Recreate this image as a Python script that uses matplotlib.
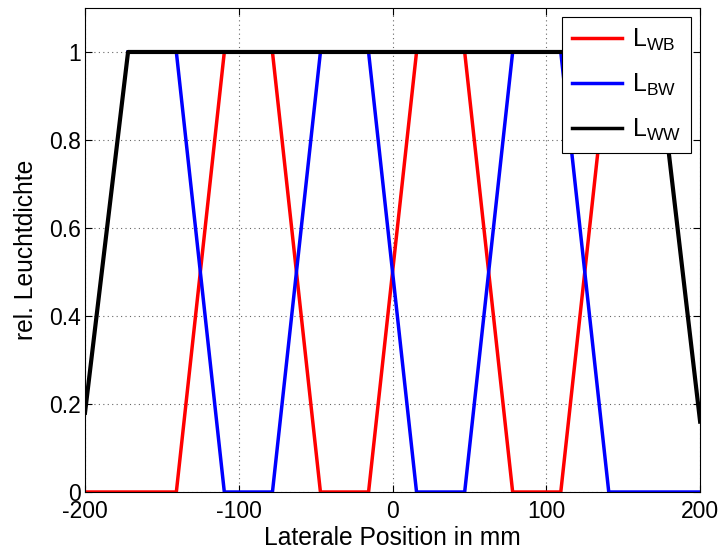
import numpy as np
import matplotlib.pyplot as plt

plt.rcParams['font.family'] = ['Liberation Sans', 'DejaVu Sans']
plt.rcParams['mathtext.fontset'] = 'custom'
plt.rcParams['mathtext.rm'] = 'Liberation Sans'
plt.rcParams['axes.unicode_minus'] = False

# Luminance profiles across the lateral position (mm)
x_wb = [-200, -140.6, -109.4, -78.1, -46.9, -15.6, 15.6, 46.9, 78.1, 109.4, 140.6, 172]
y_wb = [0, 0, 1, 1, 0, 0, 1, 1, 0, 0, 1, 1]

x_bw = [-172, -140.6, -109.4, -78.1, -46.9, -15.6, 15.6, 46.9, 78.1, 109.4, 140.6, 200]
y_bw = [1, 1, 0, 0, 1, 1, 0, 0, 1, 1, 0, 0]

x_ww = [-200, -172, 172, 200]
y_ww = [0.18, 1, 1, 0.16]

fig = plt.figure(figsize=(7.24, 5.54), dpi=100)
ax = fig.add_axes([0.1174, 0.1119, 0.8496, 0.8737])

ax.plot(x_wb, y_wb, color='#ff0000', lw=2.5, label=r'L$_{\mathregular{WB}}$')
ax.plot(x_bw, y_bw, color='#0000ff', lw=2.5, label=r'L$_{\mathregular{BW}}$')
ax.plot(x_ww, y_ww, color='black', lw=3.0, label=r'L$_{\mathregular{WW}}$')

ax.set_xlim(-200, 200)
ax.set_ylim(0, 1.1)
ax.set_xticks([-200, -100, 0, 100, 200])
ax.set_yticks([0, 0.2, 0.4, 0.6, 0.8, 1])
ax.set_yticklabels(['0', '0.2', '0.4', '0.6', '0.8', '1'])
ax.tick_params(direction='in', labelsize=16.5, length=5, pad=3, top=True, right=True)
ax.tick_params(axis='x', pad=6)
ax.grid(True, linestyle=(0, (1, 3)), color='black', linewidth=0.8, alpha=0.6)

ax.set_xlabel('Laterale Position in mm', fontsize=17.7, labelpad=2)
ax.set_ylabel('rel. Leuchtdichte', fontsize=17.7, labelpad=8)

leg = ax.legend(loc='upper right', fontsize=18, handlelength=2.0,
                handletextpad=0.4, fancybox=False, edgecolor='black',
                framealpha=1, borderaxespad=0.35, labelspacing=0.75,
                borderpad=0.4)
leg.get_frame().set_linewidth(0.8)
for line in leg.get_lines():
    line.set_linewidth(2.5)

fig.savefig('out.png', dpi=100)
